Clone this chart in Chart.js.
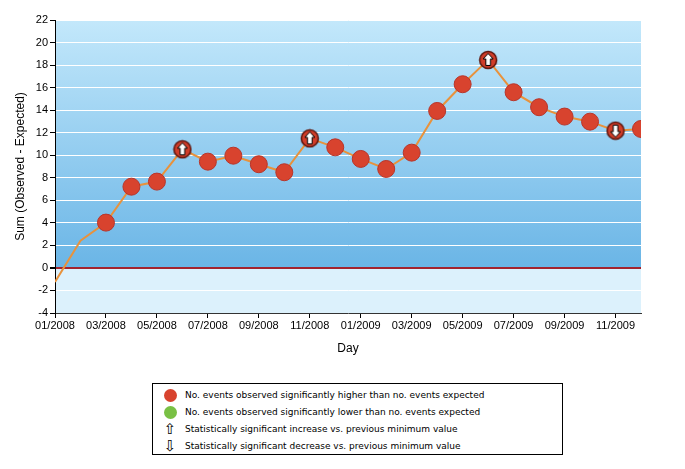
<!DOCTYPE html>
<html>
<head>
<meta charset="utf-8">
<script src="https://cdn.jsdelivr.net/npm/chart.js@4/dist/chart.umd.min.js"></script>
<style>
  body { margin: 0; background: #fff; font-family: "Liberation Sans", Arial, sans-serif; }
  #wrap { position: relative; width: 685px; height: 360px; }
  #legend {
    position: absolute; left: 152px; top: 383px; width: 411px; height: 72px;
    border: 1px solid #000; box-sizing: border-box; font-family: "DejaVu Sans", sans-serif;
    font-size: 9px; color: #000;
  }
  .row { position: absolute; left: 0; height: 16px; line-height: 16px; }
  .ico { position: absolute; left: 10px; top: 1px; width: 14px; height: 14px; text-align: center; }
  .txt { position: absolute; left: 32px; white-space: nowrap; }
  .dot { display: inline-block; width: 13px; height: 13px; border-radius: 50%; margin-top: 1px; }
  .arr { font-size: 15px; line-height: 14px; font-family: "DejaVu Sans", sans-serif; }
</style>
</head>
<body>
<div id="wrap"><canvas id="chart" width="685" height="360"></canvas></div>
<div id="legend">
  <div class="row" style="top:3px"><div class="ico"><span class="dot" style="background:#d8432e"></span></div><div class="txt">No. events observed significantly higher than no. events expected</div></div>
  <div class="row" style="top:20px"><div class="ico"><span class="dot" style="background:#79c044"></span></div><div class="txt">No. events observed significantly lower than no. events expected</div></div>
  <div class="row" style="top:37px"><div class="ico arr">&#8679;</div><div class="txt">Statistically significant increase vs. previous minimum value</div></div>
  <div class="row" style="top:54px"><div class="ico arr">&#8681;</div><div class="txt">Statistically significant decrease vs. previous minimum value</div></div>
</div>
<script>
// monthly values
var months = ['01/2008','02/2008','03/2008','04/2008','05/2008','06/2008','07/2008','08/2008','09/2008','10/2008','11/2008','12/2008',
              '01/2009','02/2009','03/2009','04/2009','05/2009','06/2009','07/2009','08/2009','09/2009','10/2009','11/2009','12/2009'];
var sums = [-1.24, 2.42, 4.02, 7.21, 7.66, 10.53, 9.43, 9.96, 9.2, 8.49, 11.5, 10.7,
            9.67, 8.78, 10.23, 13.93, 16.3, 18.46, 15.59, 14.26, 13.43, 12.98, 12.18, 12.33];
// 'H' = significantly higher, '' = nothing; arrows: 'U' up, 'D' down
var signif = ['', '', 'H','H','H','H','H','H','H','H','H','H','H','H','H','H','H','H','H','H','H','H','H','H'];
var arrows = ['', '', '', '', '', 'U', '', '', '', '', 'U', '', '', '', '', '', '', 'U', '', '', '', '', 'D', ''];
var yTicks = [-4, -2, 0, 2, 4, 6, 8, 10, 12, 14, 16, 18, 20, 22];

function arrowMarker(dir) {
    var c = document.createElement('canvas');
    c.width = 20; c.height = 20;
    var g = c.getContext('2d');
    g.beginPath();
    g.arc(10, 10, 8.5, 0, Math.PI * 2);
    g.fillStyle = '#d13d29';
    g.fill();
    g.lineWidth = 1.5;
    g.strokeStyle = '#5a140c';
    g.stroke();
    g.save();
    if (dir == 'D') { g.translate(10, 10); g.rotate(Math.PI); g.translate(-10, -10); }
    g.beginPath();
    g.moveTo(10, 3.5);
    g.lineTo(15, 9);
    g.lineTo(12.3, 9);
    g.lineTo(12.3, 15.5);
    g.lineTo(7.7, 15.5);
    g.lineTo(7.7, 9);
    g.lineTo(5, 9);
    g.closePath();
    g.fillStyle = '#fff';
    g.fill();
    g.lineWidth = 1;
    g.strokeStyle = '#000';
    g.stroke();
    g.restore();
    return c;
}
var upImg = arrowMarker('U');
var downImg = arrowMarker('D');

var points = sums.map(function (v, i) { return { x: i, y: v }; });

var bgPlugin = {
    id: 'bg',
    beforeDraw: function (chart) {
        var ctx = chart.ctx, a = chart.chartArea, y = chart.scales.y;
        var zero = y.getPixelForValue(0);
        var grad = ctx.createLinearGradient(0, a.top, 0, zero);
        grad.addColorStop(0, '#c3e8fb');
        grad.addColorStop(1, '#6ab5e6');
        ctx.save();
        ctx.fillStyle = grad;
        ctx.fillRect(a.left, a.top, a.right - a.left, zero - a.top);
        ctx.fillStyle = '#dcf1fc';
        ctx.fillRect(a.left, zero, a.right - a.left, a.bottom - zero);
        ctx.restore();
    }
};

var ctx = document.getElementById('chart').getContext('2d');
var chart = new Chart(ctx, {
    type: 'line',
    data: {
        datasets: [{
            data: points,
            borderColor: '#e8923c',
            borderWidth: 2,
            tension: 0,
            pointRadius: function (c) { return signif[c.dataIndex] ? 8.5 : 0; },
            pointHoverRadius: function (c) { return signif[c.dataIndex] ? 8.5 : 0; },
            pointBackgroundColor: '#d8432e',
            pointBorderColor: '#b8352a',
            pointBorderWidth: 1,
            pointStyle: function (c) {
                var a = arrows[c.dataIndex];
                if (a == 'U') return upImg;
                if (a == 'D') return downImg;
                return 'circle';
            }
        }]
    },
    plugins: [bgPlugin],
    options: {
        responsive: false,
        animation: false,
        events: [],
        layout: { padding: { top: 20, right: 44, left: 0, bottom: 0 } },
        plugins: { legend: { display: false }, tooltip: { enabled: false } },
        scales: {
            x: {
                type: 'linear',
                min: 0,
                max: 23,
                afterBuildTicks: function (s) {
                    s.ticks = [];
                    for (var i = 0; i < months.length; i += 2) s.ticks.push({ value: i });
                },
                afterFit: function (s) { s.height = 47; },
                ticks: {
                    autoSkip: false,
                    maxRotation: 0,
                    padding: 1,
                    color: '#000',
                    font: { family: 'Liberation Sans', size: 11 },
                    callback: function (v) { return months[v]; }
                },
                grid: { drawOnChartArea: false, tickLength: 5, tickColor: '#000' },
                border: { color: '#333', width: 1 },
                title: {
                    display: true, text: 'Day', color: '#000',
                    font: { family: 'Liberation Sans', size: 12 }, padding: { top: 8 }
                }
            },
            y: {
                min: -4,
                max: 22,
                afterBuildTicks: function (s) { s.ticks = yTicks.map(function (v) { return { value: v }; }); },
                afterFit: function (s) { s.width = 55; },
                ticks: {
                    color: '#000',
                    padding: 2,
                    font: { family: 'Liberation Sans', size: 11 }
                },
                grid: {
                    tickLength: 5,
                    tickColor: '#000',
                    color: function (c) { return c.tick && c.tick.value === 0 ? '#a3232e' : '#ffffff'; },
                    lineWidth: function (c) { return c.tick && c.tick.value === 0 ? 2 : 1; }
                },
                border: { color: '#000', width: 1 },
                title: {
                    display: true, text: 'Sum (Observed - Expected)', color: '#000',
                    font: { family: 'Liberation Sans', size: 12 }, padding: { top: 13, bottom: 0 }
                }
            }
        }
    }
});
</script>
</body>
</html>
